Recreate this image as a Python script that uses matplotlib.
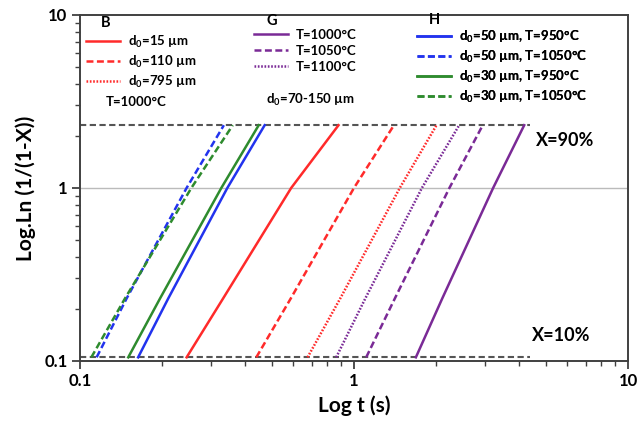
import matplotlib
matplotlib.use('Agg')
import matplotlib.pyplot as plt
from matplotlib.lines import Line2D
from matplotlib.ticker import FixedLocator, FixedFormatter, LogLocator, NullFormatter
import numpy as np

plt.rcParams['font.family'] = ['Lato', 'DejaVu Sans']
plt.rcParams['font.weight'] = 'bold'
plt.rcParams['lines.scale_dashes'] = False
plt.rcParams['mathtext.fontset'] = 'custom'
plt.rcParams['mathtext.rm'] = 'Lato:bold'

y_levels = [0.105, 0.23, 1.0, 2.303]

# time (s) of each curve at those levels
B_d15 = [0.245, 0.333, 0.590, 0.878]
B_d110 = [0.440, 0.588, 1.0, 1.399]
B_d795 = [0.677, 0.891, 1.47, 2.0]
G_T1000 = [1.682, 2.10, 3.22, 4.18]
G_T1050 = [1.108, 1.41, 2.23, 2.95]
G_T1100 = [0.861, 1.10, 1.77, 2.42]
H_d50_T950 = [0.163, 0.210, 0.345, 0.472]
H_d50_T1050 = [0.115, 0.148, 0.245, 0.335]
H_d30_T950 = [0.150, 0.196, 0.328, 0.449]
H_d30_T1050 = [0.110, 0.146, 0.255, 0.361]

B_labels = ['d$_0$=15 µm', 'd$_0$=110 µm', 'd$_0$=795 µm']
G_labels = ['T=1000°C', 'T=1050°C', 'T=1100°C']
H_labels = ['d$_0$=50 µm, T=950°C', 'd$_0$=50 µm, T=1050°C',
            'd$_0$=30 µm, T=950°C', 'd$_0$=30 µm, T=1050°C']

red = '#ff2a2a'
purple = '#7a2a96'
blue = '#2233ee'
green = '#2e8b2e'
solid = '-'
dash = (0, (5, 2.5))
dot = (0, (1.2, 1.2))

fig = plt.figure(figsize=(6.42, 4.30), dpi=100)
ax = fig.add_axes([0.1246, 0.1605, 0.8536, 0.805])

# reference lines X=10% and X=90%
x90 = np.log(1 / (1 - 0.9))
x10 = np.log(1 / (1 - 0.1))
ax.axhline(1, color='#bbbbbb', lw=1)
ax.hlines([x90, x10], 0.1, 4.4, colors='#555555', lw=1.5, linestyles=(0, (4.5, 2.5)))

B = [(B_d15, red, solid), (B_d110, red, dash), (B_d795, red, dot)]
G = [(G_T1000, purple, solid), (G_T1050, purple, dash), (G_T1100, purple, dot)]
H = [(H_d50_T950, blue, solid), (H_d50_T1050, blue, dash),
     (H_d30_T950, green, solid), (H_d30_T1050, green, dash)]

for group in (B, G, H):
    for t, c, ls in group:
        ax.plot(t, y_levels, color=c, ls=ls, lw=1.8)

ax.set_xscale('log')
ax.set_yscale('log')
ax.set_xlim(0.1, 10)
ax.set_ylim(0.1, 10)

for axis in (ax.xaxis, ax.yaxis):
    axis.set_major_locator(FixedLocator([0.1, 1, 10]))
    axis.set_major_formatter(FixedFormatter(['0.1', '1', '10']))
    axis.set_minor_locator(LogLocator(base=10, subs=np.arange(2, 10)))
    axis.set_minor_formatter(NullFormatter())
ax.tick_params(which='major', direction='out', length=6, width=1.3, color='#404040',
               labelsize=12, pad=3)
ax.tick_params(which='minor', direction='out', length=3.5, width=1, color='#404040')
for s in ax.spines.values():
    s.set_color('#404040')
    s.set_linewidth(1.4)
for lab in ax.get_xticklabels() + ax.get_yticklabels():
    lab.set_fontweight('bold')

ax.set_xlabel('Log t (s)', fontsize=15, fontweight='bold', labelpad=4)
ax.set_ylabel('Log.Ln (1/(1-X))', fontsize=15, fontweight='bold', labelpad=6)

ax.text(4.63, 1.89, 'X=90%', fontsize=13, fontweight='bold', va='center')
ax.text(4.45, 0.141, 'X=10%', fontsize=13, fontweight='bold', va='center')


def group_legend(group, labels, x0, y0):
    handles = [Line2D([], [], color=c, ls=ls, lw=1.8) for _, c, ls in group]
    leg = ax.legend(handles, labels, loc='upper left', bbox_to_anchor=(x0, y0),
                    frameon=False, fontsize=9.5, handlelength=2.6, handletextpad=0.6,
                    labelspacing=0.3, borderpad=0, borderaxespad=0)
    for txt in leg.get_texts():
        txt.set_fontweight('bold')
    ax.add_artist(leg)


def fx(px):
    return (px - 80) / 548.0


def fy(py):
    return (361 - py) / 346.0


group_legend(B, B_labels, fx(86), fy(34))
group_legend(G, G_labels, fx(254), fy(29))
group_legend(H, H_labels, fx(417), fy(29))

ax.text(fx(106), fy(23), 'B', transform=ax.transAxes, fontsize=10.5, fontweight='bold',
        ha='center', va='center')
ax.text(fx(272), fy(21), 'G', transform=ax.transAxes, fontsize=10.5, fontweight='bold',
        ha='center', va='center')
ax.text(fx(434), fy(20), 'H', transform=ax.transAxes, fontsize=10.5, fontweight='bold',
        ha='center', va='center')
ax.text(fx(136), fy(102), 'T=1000°C', transform=ax.transAxes, fontsize=9.5,
        fontweight='bold', ha='center', va='center')
ax.text(fx(310), fy(100), 'd$_0$=70-150 µm', transform=ax.transAxes, fontsize=9.5,
        fontweight='bold', ha='center', va='center')

fig.savefig('out.png', dpi=100)
